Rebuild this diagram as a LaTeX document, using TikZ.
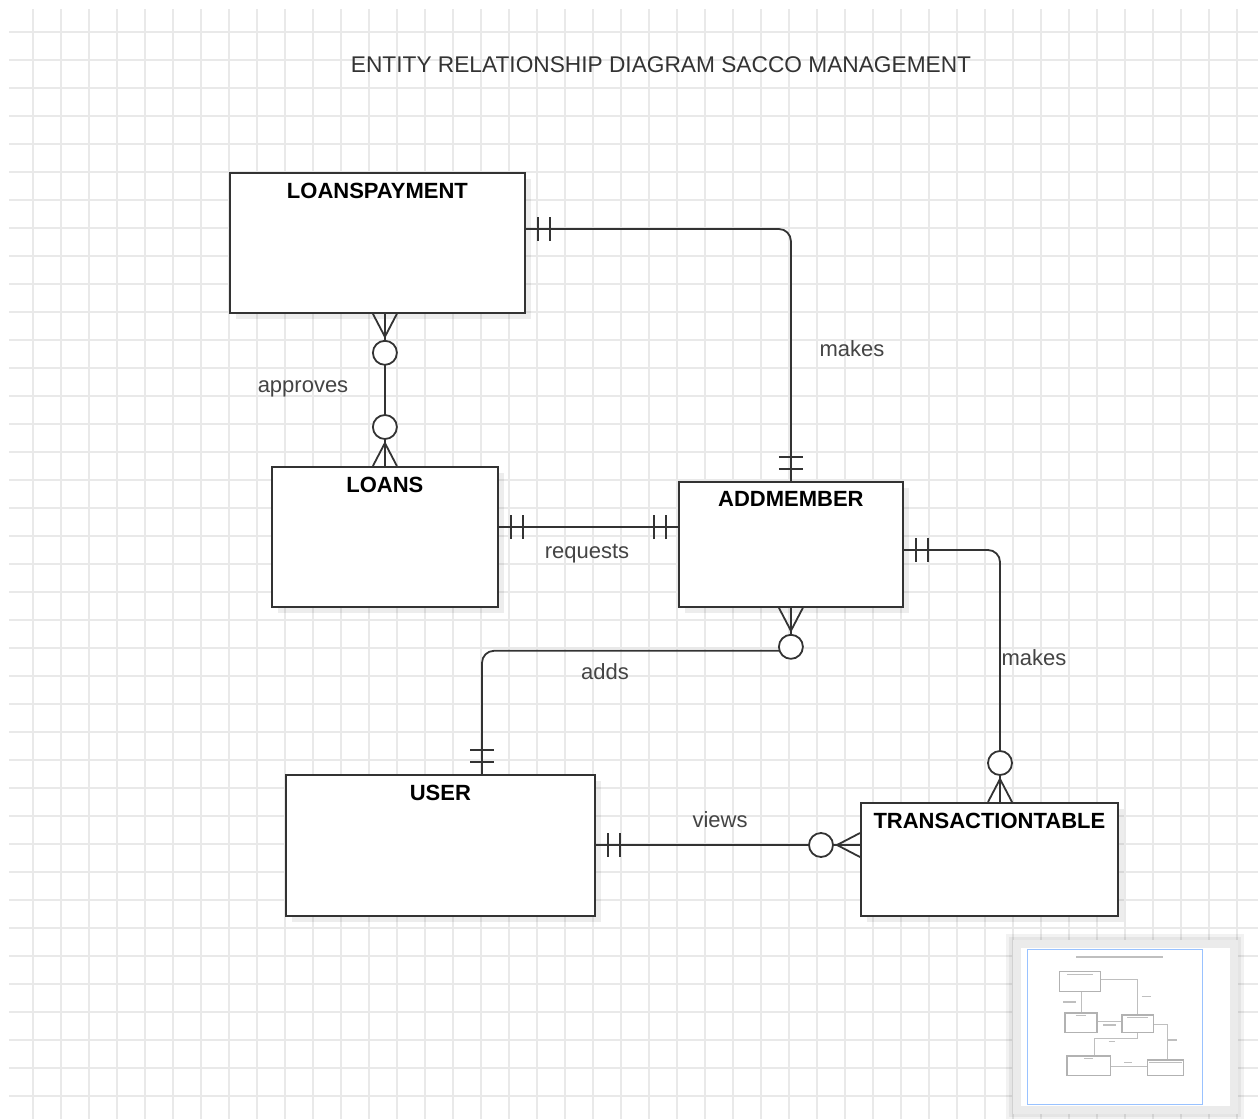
\documentclass[tikz,border=0pt]{standalone}
\usepackage{fontspec}
\setmainfont{Liberation Sans}
\usetikzlibrary{calc,shadows}
\definecolor{gridc}{HTML}{E9E9E9}
\definecolor{ink}{HTML}{333333}
\definecolor{lbl}{HTML}{444444}
\definecolor{mapblue}{HTML}{99C2FF}
\tikzset{
  conn/.style={draw=ink, line width=1.8pt},
  mone/.pic={\draw[conn] (12,-12)--(12,12) (24,-12)--(24,12);},
  zmany/.pic={\draw[conn] (0,12)--(23,0)--(0,-12) (0,0)--(27,0);
              \draw[conn, fill=white] (39,0) circle[radius=12];},
}
\begin{document}
\begin{tikzpicture}[x=1pt,y=-1pt,
  entity/.style={draw=ink, line width=1.8pt, fill=white, anchor=north west, inner sep=0pt,
    drop shadow={shadow xshift=6pt, shadow yshift=-6pt, opacity=0.07, fill=black}},
  etitle/.style={font=\fontsize{22}{26}\selectfont\bfseries, text=black, inner sep=0pt},
  rel/.style={font=\fontsize{22}{26}\selectfont, text=lbl, inner sep=0pt},
  gridline/.style={draw=gridc, line width=1.3pt},
  minibox/.style={draw=gray!60, line width=1.5pt, fill=white},
  minitext/.style={draw=gray!50, line width=1.6pt},
  miniconn/.style={draw=gray!50, line width=0.7pt},
]
\useasboundingbox (0,0) rectangle (1258,1119);
\fill[white] (0,0) rectangle (1258,1119);
% grid
\foreach \gx in {33,61,...,1258} \draw[gridline] (\gx,9) -- (\gx,1119);
\foreach \gy in {32,60,...,1119} \draw[gridline] (9,\gy) -- (1258,\gy);

% title
\node[font=\fontsize{22.7}{27}\selectfont, text=ink, inner sep=0pt] (title) at (661,65) {ENTITY RELATIONSHIP DIAGRAM SACCO MANAGEMENT};

% entities
\node[entity, minimum width=295pt, minimum height=140pt] (lp) at (229,172) {};
\node[entity, minimum width=226pt, minimum height=140pt] (lo) at (271,466) {};
\node[entity, minimum width=224pt, minimum height=125pt] (am) at (678,481) {};
\node[entity, minimum width=309pt, minimum height=141pt] (us) at (285,774) {};
\node[entity, minimum width=257pt, minimum height=113pt] (tt) at (860,802) {};

\node[etitle] (lpT) at ($(lp.north)+(0,19)$) {LOANSPAYMENT};
\node[etitle] (loT) at ($(lo.north)+(0,19)$) {LOANS};
\node[etitle] (amT) at ($(am.north)+(0,18)$) {ADDMEMBER};
\node[etitle] (usT) at ($(us.north)+(0,19)$) {USER};
\node[etitle] (ttT) at ($(tt.north)+(0,19)$) {TRANSACTIONTABLE};

% makes (loanspayment - addmember)
\coordinate (lpE) at ($(lp.north east)+(0,57)$);
\draw[conn, rounded corners=12pt] (lpE) -| (am.north);
\pic at (lpE) {mone};
\pic[rotate=90] at (am.north) {mone};

% approves
\coordinate (lpS) at (lp.south -| lo.north);
\draw[conn] (lpS) -- (lo.north);
\pic[rotate=-90] at (lpS) {zmany};
\pic[rotate=90] at (lo.north) {zmany};

% requests
\coordinate (loE) at ($(lo.north east)+(0,61)$);
\coordinate (amW) at (loE -| am.west);
\draw[conn] (loE) -- (amW);
\pic at (loE) {mone};
\pic[rotate=180] at (amW) {mone};

% makes (addmember - transactiontable)
\coordinate (amE) at ($(am.north east)+(0,69)$);
\coordinate (ttN) at ($(tt.north west)+(140,0)$);
\draw[conn, rounded corners=12pt] (amE) -| (ttN);
\pic at (amE) {mone};
\pic[rotate=90] at (ttN) {zmany};

% adds
\coordinate (usN) at ($(us.north west)+(197,0)$);
\coordinate (addsC) at ($(am.south)+(0,43)$);
\draw[conn, rounded corners=12pt] (am.south) -- (addsC) -| (usN);
\pic[rotate=-90] at (am.south) {zmany};
\pic[rotate=90] at (usN) {mone};

% views
\coordinate (usE) at ($(us.north east)+(0,71)$);
\coordinate (ttW) at (usE -| tt.west);
\draw[conn] (usE) -- (ttW);
\pic at (usE) {mone};
\pic[rotate=180] at (ttW) {zmany};

% relationship labels
\node[rel] (r1) at (852,349) {makes};
\node[rel] (r2) at (303,389) {approves};
\node[rel] (r3) at (587,554) {requests};
\node[rel] (r4) at (1034,658) {makes};
\node[rel] (r5) at (605,672) {adds};
\node[rel] (r6) at (720,820) {views};

% minimap
\fill[black, opacity=0.05] (1006,934) rectangle (1244,1119);
\fill[black, opacity=0.05] (1009,937) rectangle (1241,1117);
\fill[gray!16] (1012.7,940) rectangle (1238.3,1113.5);
\fill[white] (1020.7,948.3) rectangle (1230,1105.7);
\begin{scope}[shift={(1027.2,947.6)}, scale=0.14]
  \draw[miniconn] (524,229) -| (790,481);
  \draw[miniconn] (384,312) -- (384,466);
  \draw[miniconn] (497,527) -- (678,527);
  \draw[miniconn] (902,550) -| (1000,802);
  \draw[miniconn] (790,606) -- (790,649) -| (482,774);
  \draw[miniconn] (594,845) -- (860,845);
  \draw[minibox] (229,172) rectangle (524,312);
  \draw[minibox] (271,466) rectangle (497,606);
  \draw[minibox] (678,481) rectangle (902,606);
  \draw[minibox] (285,774) rectangle (594,915);
  \draw[minibox] (860,802) rectangle (1117,915);
  \draw[minitext] (351,65) -- (972,65);
  \draw[minitext] (284,191) -- (470,191);
  \draw[minitext] (345,485) -- (423,485);
  \draw[minitext] (716,498) -- (866,498);
  \draw[minitext] (409,793) -- (471,793);
  \draw[minitext] (870,821) -- (1109,821);
  \draw[minitext] (819,349) -- (885,349);
  \draw[minitext] (257,388) -- (350,388);
  \draw[minitext] (543,553) -- (631,553);
  \draw[minitext] (1002,658) -- (1068,658);
  \draw[minitext] (581,672) -- (630,672);
  \draw[minitext] (692,820) -- (749,820);
\end{scope}
\draw[mapblue, line width=1.5pt] (1027.7,949.3) rectangle (1202.7,1104.3);
\end{tikzpicture}
\end{document}
